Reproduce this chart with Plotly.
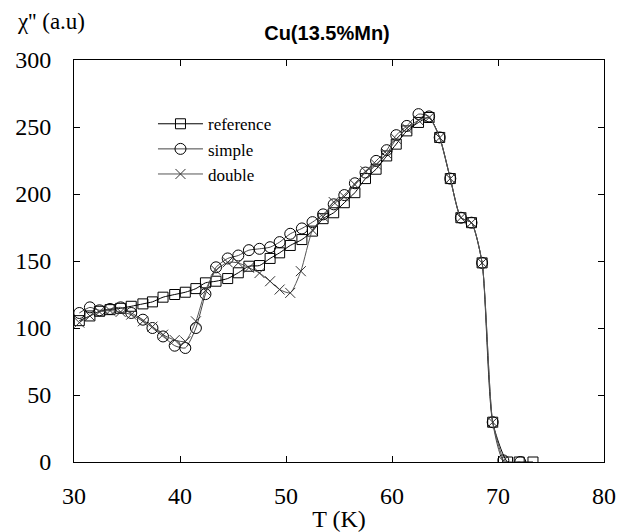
import plotly.graph_objects as go

# Reference
T_ref = [30.5, 31.5, 32.4, 33.4, 34.4, 35.4, 36.5, 37.4, 38.4, 39.5, 40.5, 41.5, 42.4, 43.4,
         44.5, 45.5, 46.5, 47.5, 48.5, 49.4, 50.4, 51.5, 52.5, 53.5, 54.5, 55.5, 56.5, 57.5,
         58.5, 59.5, 60.4, 61.4, 62.5, 63.5, 64.5, 65.5, 66.5, 67.5, 68.5, 69.5, 70.9, 72.0, 73.3]
chi_ref = [105.5, 109, 112.5, 113.7, 114.7, 116.2, 118, 119.5, 123, 125, 126.7, 129.4, 133.7, 134.9,
           136.9, 141.2, 146.1, 146.6, 151.9, 156.1, 161.6, 166, 172.3, 181.6, 186, 193.5, 201, 211.5,
           218.5, 228.4, 237.2, 247.1, 253.4, 257.1, 242.2, 211.5, 182.3, 178.6, 148.6, 29.7, 0, 0, 0]

# Simple
T_simple = [30.5, 31.5, 32.4, 33.4, 34.4, 35.4, 36.5, 37.4, 38.4, 39.5, 40.5, 41.5, 42.4, 43.4,
            44.5, 45.5, 46.5, 47.5, 48.5, 49.4, 50.4, 51.5, 52.5, 53.5, 54.5, 55.5, 56.5, 57.5,
            58.5, 59.5, 60.4, 61.4, 62.5, 63.5, 64.5, 65.5, 66.5, 67.5, 68.5, 69.5, 70.5, 72.1]
chi_simple = [111.2, 115.4, 113.2, 114.2, 115.4, 111.2, 106.2, 100, 93.7, 86.8, 85.1, 100, 125.3, 145.3,
              151.9, 154.1, 158.1, 159.1, 160.3, 164.1, 170.3, 174.3, 179, 184.8, 192.3, 199.2, 208, 216,
              224.7, 232.7, 243.9, 250.8, 259.6, 257.9, 242.2, 211.5, 182.3, 178.6, 148.6, 29.7, 1.2, 0]

# Double
T_double = [30.5, 31.5, 32.4, 33.4, 34.4, 35.4, 36.5, 37.4, 38.4, 39.5, 40.5, 41.5, 42.4, 43.4,
            44.5, 45.5, 46.5, 47.5, 48.5, 49.4, 50.4, 51.4, 52.5, 53.5, 54.5, 55.5, 56.5, 57.5,
            58.5, 59.5, 60.4, 61.4, 62.5, 63.5, 64.5, 65.5, 66.5, 67.5, 68.5, 69.5, 70.5]
chi_double = [104, 109, 112, 113, 112, 110, 105, 101, 95, 91, 90, 105, 128, 143,
              149, 148.6, 145, 141, 134.9, 128.7, 126.2, 142.4, 173, 183, 194, 198, 207, 217,
              222, 230, 241, 249, 255, 257, 242, 211.5, 182.3, 178.6, 148.6, 29.7, 0.8]

x_ticks = [30, 40, 50, 60, 70, 80]
y_ticks = [0, 50, 100, 150, 200, 250, 300]

serif = "Times New Roman"
sans = "Arial"

fig = go.Figure()
fig.add_trace(go.Scatter(
    x=T_ref, y=chi_ref, name="reference", mode="lines+markers",
    line=dict(color="black", width=1, shape="spline", smoothing=0.6),
    marker=dict(symbol="square-open", size=10, color="black", line=dict(width=1))))
fig.add_trace(go.Scatter(
    x=T_simple, y=chi_simple, name="simple", mode="lines+markers",
    line=dict(color="#444", width=1, shape="spline", smoothing=0.6),
    marker=dict(symbol="circle-open", size=11, color="black", line=dict(width=1))))
fig.add_trace(go.Scatter(
    x=T_double, y=chi_double, name="double", mode="lines+markers",
    line=dict(color="#555", width=1, shape="spline", smoothing=0.6),
    marker=dict(symbol="x-thin-open", size=10, color="#333", line=dict(width=1))))

# the page body has an 8px margin, so the figure is laid out 8px up/left of the target positions
fig.update_layout(
    width=627, height=524,
    margin=dict(l=66, r=31, t=52, b=70),
    paper_bgcolor="white", plot_bgcolor="white",
    title=dict(text="<b>Cu(13.5%Mn)</b>", x=319 / 627, xanchor="center", xref="container",
               y=1 - 25 / 524, yanchor="middle", yref="container",
               font=dict(family=sans, size=20, color="black")),
    font=dict(family=serif, color="black"),
    showlegend=True,
    legend=dict(x=0.149, y=0.885, xanchor="left", yanchor="top", bgcolor="rgba(0,0,0,0)",
                font=dict(family=serif, size=17, color="black"), tracegroupgap=0,
                itemsizing="trace", itemwidth=45),
    xaxis=dict(range=[30, 80], tickvals=x_ticks, ticks="inside", ticklen=6, tickcolor="black",
               showline=True, linecolor="black", linewidth=1, mirror="ticks", showgrid=False,
               zeroline=False, tickfont=dict(family=serif, size=24, color="black"),
               ticklabelstandoff=12, automargin=False,
               title=dict(text="T (K)", font=dict(family=serif, size=24, color="black"), standoff=12)),
    yaxis=dict(range=[0, 300], tickvals=y_ticks, ticks="inside", ticklen=6, tickcolor="black",
               showline=True, linecolor="black", linewidth=1, mirror="ticks", showgrid=False,
               zeroline=False, tickfont=dict(family=serif, size=24, color="black"),
               ticklabelstandoff=17, automargin=False),
    annotations=[dict(text="χ'' (a.u)", xref="paper", yref="paper", x=-0.111, y=1.097,
                      xanchor="left", yanchor="middle", showarrow=False,
                      font=dict(family=serif, size=23, color="black"))],
)

fig.write_html("out.html")
